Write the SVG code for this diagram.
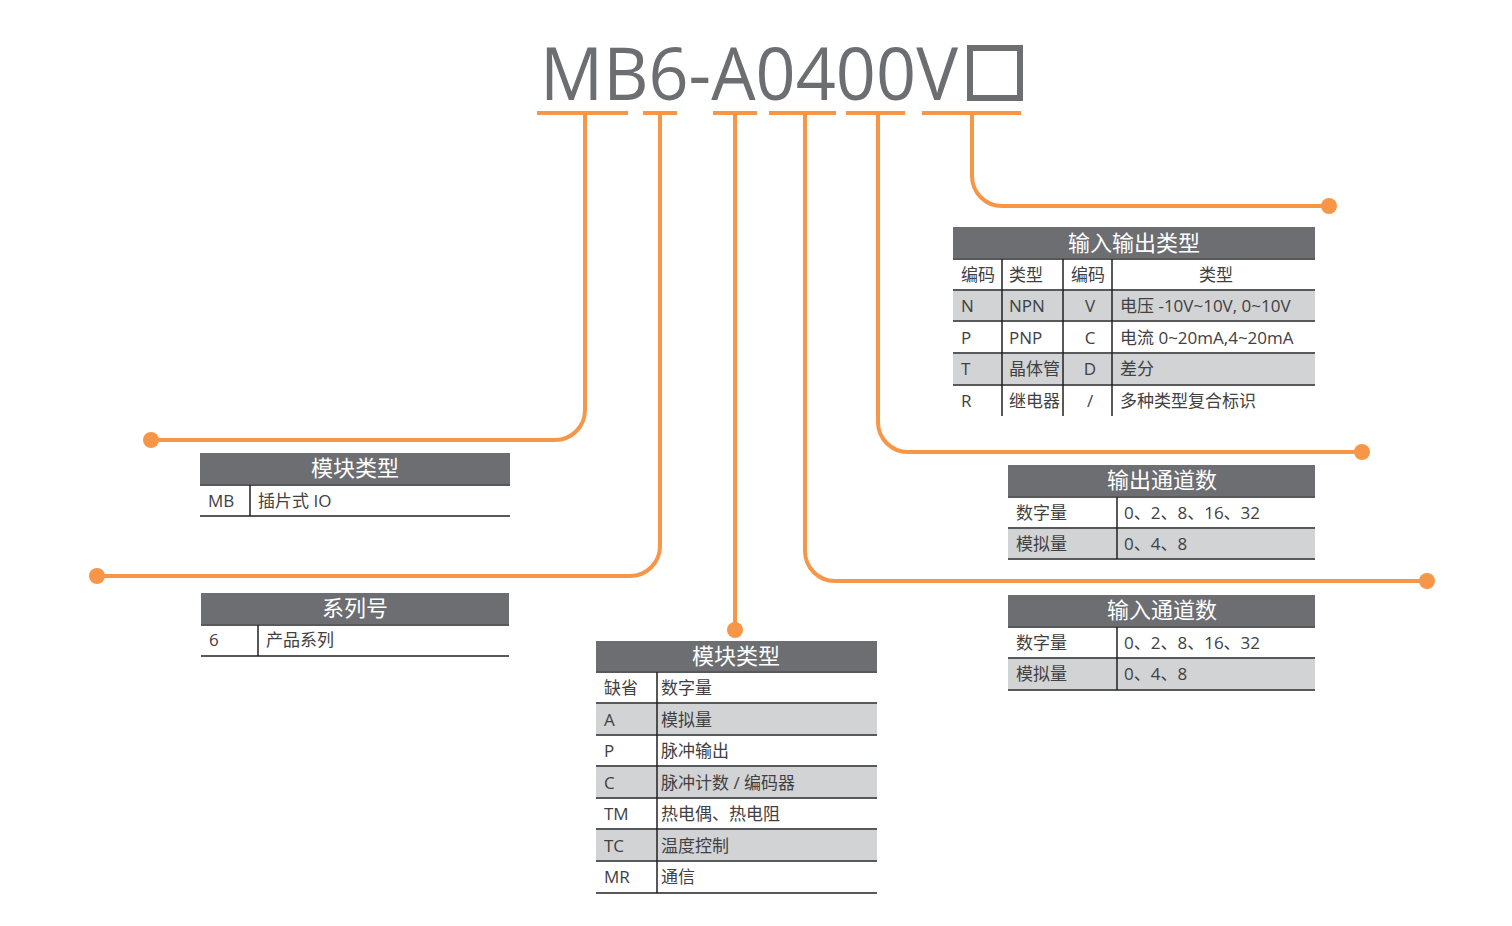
<svg xmlns="http://www.w3.org/2000/svg" width="1512" height="926" viewBox="0 0 1512 926">
<style>
.t{font-family:"Open Sans","Noto Sans CJK SC",sans-serif;font-size:17px;fill:#414042}
.h{font-family:"Open Sans","Noto Sans CJK SC",sans-serif;font-size:22px;fill:#ffffff;text-anchor:middle}
.m{text-anchor:middle}
.hd{fill:#6d6e71}
.g{fill:#d1d3d4}
.rl{stroke:#58595b;stroke-width:2}
.dv{stroke:#231f20;stroke-width:1.5}
.c{fill:none;stroke:#f79646;stroke-width:4}
.d{fill:#f79646}
</style>
<rect width="1512" height="926" fill="#ffffff"/>
<g id="title">
<text x="540" y="100" font-family="Open Sans, Noto Sans, sans-serif" font-size="74" fill="#6d6e71" textLength="418" lengthAdjust="spacingAndGlyphs">MB6-A0400V</text>
<rect x="970" y="48" width="50" height="50" fill="none" stroke="#6d6e71" stroke-width="6"/>
</g>
<g id="connectors">
<path class="c" d="M537,113H628M643,113H677M713,113H757M769,113H836M846,113H905M922,113H1021"/>
<path class="c" d="M585,113V410A30,30 0 0 1 555,440H151"/>
<circle class="d" cx="151" cy="440" r="8"/>
<path class="c" d="M660,113V546A30,30 0 0 1 630,576H97"/>
<circle class="d" cx="97" cy="576" r="8"/>
<path class="c" d="M735,113V630"/>
<circle class="d" cx="735" cy="630" r="8"/>
<path class="c" d="M805,113V551A30,30 0 0 0 835,581H1427"/>
<circle class="d" cx="1427" cy="581" r="8"/>
<path class="c" d="M878,113V422A30,30 0 0 0 908,452H1362"/>
<circle class="d" cx="1362" cy="452" r="8"/>
<path class="c" d="M972,113V176A30,30 0 0 0 1002,206H1329"/>
<circle class="d" cx="1329" cy="206" r="8"/>
</g>
<g id="io-type">
<rect class="hd" x="953" y="227" width="362" height="32"/>
<text class="h" x="1134" y="251">输入输出类型</text>
<rect class="g" x="953" y="290" width="362" height="31"/>
<rect class="g" x="953" y="353" width="362" height="32"/>
<line class="rl" x1="953" y1="259" x2="1315" y2="259"/>
<line class="rl" x1="953" y1="290" x2="1315" y2="290"/>
<line class="rl" x1="953" y1="321" x2="1315" y2="321"/>
<line class="rl" x1="953" y1="353" x2="1315" y2="353"/>
<line class="rl" x1="953" y1="385" x2="1315" y2="385"/>
<line class="dv" x1="1002" y1="259" x2="1002" y2="416"/>
<line class="dv" x1="1063" y1="259" x2="1063" y2="416"/>
<line class="dv" x1="1112" y1="259" x2="1112" y2="416"/>
<text class="t" x="961" y="281">编码</text>
<text class="t" x="1009" y="281">类型</text>
<text class="t" x="1071" y="281">编码</text>
<text class="t m" x="1216" y="281">类型</text>
<text class="t" x="961" y="312">N</text>
<text class="t" x="1009" y="312">NPN</text>
<text class="t m" x="1090" y="312">V</text>
<text class="t" x="1120" y="312">电压 -10V~10V, 0~10V</text>
<text class="t" x="961" y="344">P</text>
<text class="t" x="1009" y="344">PNP</text>
<text class="t m" x="1090" y="344">C</text>
<text class="t" x="1120" y="344">电流 0~20mA,4~20mA</text>
<text class="t" x="961" y="375">T</text>
<text class="t" x="1009" y="375">晶体管</text>
<text class="t m" x="1090" y="375">D</text>
<text class="t" x="1120" y="375">差分</text>
<text class="t" x="961" y="407">R</text>
<text class="t" x="1009" y="407">继电器</text>
<text class="t m" x="1090" y="407">/</text>
<text class="t" x="1120" y="407">多种类型复合标识</text>
</g>
<g id="module-type-mb">
<rect class="hd" x="200" y="453" width="310" height="31"/>
<text class="h" x="355" y="476">模块类型</text>
<line class="rl" x1="200" y1="485" x2="510" y2="485"/>
<line x1="200" y1="516" x2="510" y2="516" stroke="#231f20" stroke-width="1.5"/>
<line class="dv" x1="250" y1="485" x2="250" y2="516"/>
<text class="t" x="208" y="507">MB</text>
<text class="t" x="258" y="507">插片式 IO</text>
</g>
<g id="series">
<rect class="hd" x="201" y="593" width="308" height="31"/>
<text class="h" x="355" y="616">系列号</text>
<line class="rl" x1="201" y1="625" x2="509" y2="625"/>
<line class="rl" x1="201" y1="656" x2="509" y2="656"/>
<line class="dv" x1="258" y1="625" x2="258" y2="656"/>
<text class="t" x="209" y="646">6</text>
<text class="t" x="266" y="646">产品系列</text>
</g>
<g id="module-type">
<rect class="hd" x="596" y="641" width="281" height="31"/>
<text class="h" x="736" y="664">模块类型</text>
<rect class="g" x="596" y="703" width="281" height="32"/>
<rect class="g" x="596" y="766" width="281" height="32"/>
<rect class="g" x="596" y="829" width="281" height="32"/>
<line class="rl" x1="596" y1="672" x2="877" y2="672"/>
<line class="rl" x1="596" y1="703" x2="877" y2="703"/>
<line class="rl" x1="596" y1="735" x2="877" y2="735"/>
<line class="rl" x1="596" y1="766" x2="877" y2="766"/>
<line class="rl" x1="596" y1="798" x2="877" y2="798"/>
<line class="rl" x1="596" y1="829" x2="877" y2="829"/>
<line class="rl" x1="596" y1="861" x2="877" y2="861"/>
<line class="rl" x1="596" y1="893" x2="877" y2="893"/>
<line class="dv" x1="657" y1="672" x2="657" y2="893"/>
<text class="t" x="604" y="694">缺省</text>
<text class="t" x="661" y="694">数字量</text>
<text class="t" x="604" y="726">A</text>
<text class="t" x="661" y="726">模拟量</text>
<text class="t" x="604" y="757">P</text>
<text class="t" x="661" y="757">脉冲输出</text>
<text class="t" x="604" y="789">C</text>
<text class="t" x="661" y="789">脉冲计数 / 编码器</text>
<text class="t" x="604" y="820">TM</text>
<text class="t" x="661" y="820">热电偶、热电阻</text>
<text class="t" x="604" y="852">TC</text>
<text class="t" x="661" y="852">温度控制</text>
<text class="t" x="604" y="883">MR</text>
<text class="t" x="661" y="883">通信</text>
</g>
<g id="output-channels">
<rect class="hd" x="1008" y="465" width="307" height="31"/>
<text class="h" x="1162" y="488">输出通道数</text>
<rect class="g" x="1008" y="528" width="307" height="31"/>
<line class="rl" x1="1008" y1="497" x2="1315" y2="497"/>
<line class="rl" x1="1008" y1="528" x2="1315" y2="528"/>
<line class="rl" x1="1008" y1="559" x2="1315" y2="559"/>
<line class="dv" x1="1117" y1="497" x2="1117" y2="559"/>
<text class="t" x="1016" y="519">数字量</text>
<text class="t" x="1124" y="519">0、2、8、16、32</text>
<text class="t" x="1016" y="550">模拟量</text>
<text class="t" x="1124" y="550">0、4、8</text>
</g>
<g id="input-channels">
<rect class="hd" x="1008" y="595" width="307" height="31"/>
<text class="h" x="1162" y="618">输入通道数</text>
<rect class="g" x="1008" y="658" width="307" height="32"/>
<line class="rl" x1="1008" y1="627" x2="1315" y2="627"/>
<line class="rl" x1="1008" y1="658" x2="1315" y2="658"/>
<line class="rl" x1="1008" y1="690" x2="1315" y2="690"/>
<line class="dv" x1="1117" y1="627" x2="1117" y2="690"/>
<text class="t" x="1016" y="649">数字量</text>
<text class="t" x="1124" y="649">0、2、8、16、32</text>
<text class="t" x="1016" y="680">模拟量</text>
<text class="t" x="1124" y="680">0、4、8</text>
</g>
</svg>
